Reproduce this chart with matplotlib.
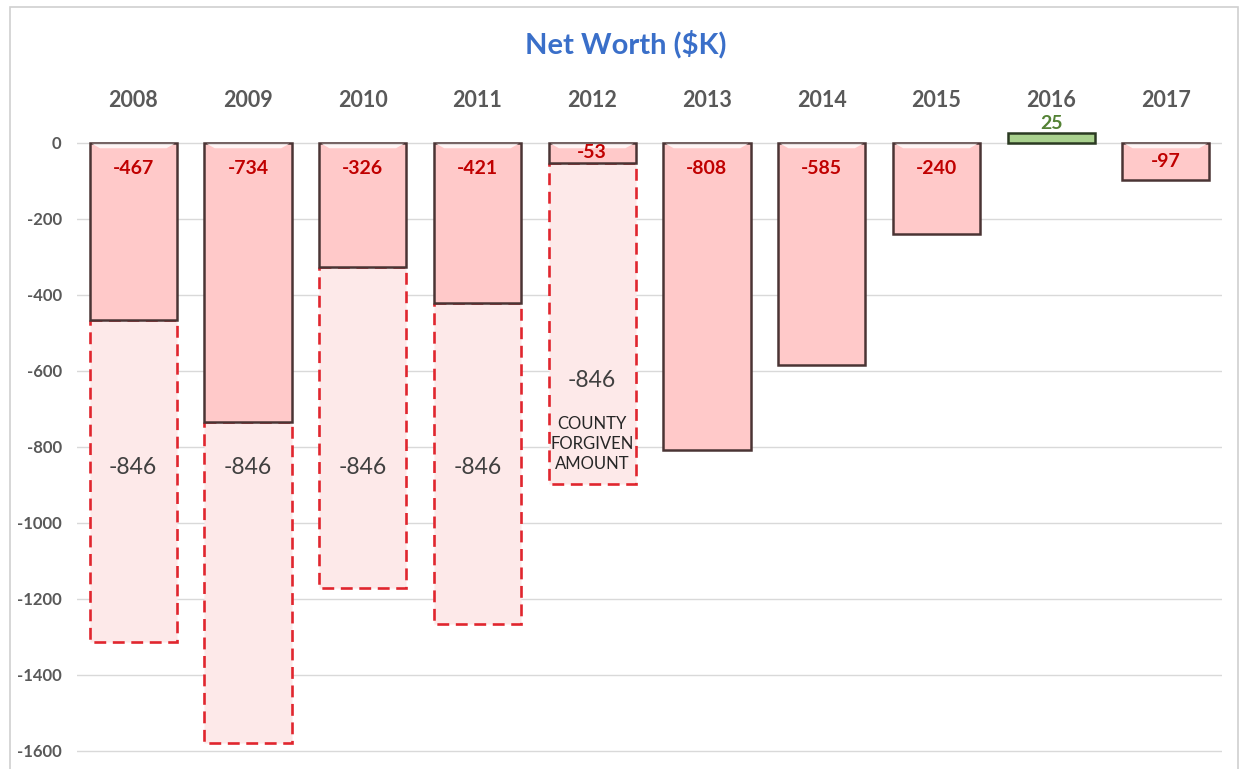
import matplotlib.pyplot as plt
import matplotlib.patches as mpatches
import numpy as np

# ── DATA ──
years = ["2008", "2009", "2010", "2011", "2012", "2013", "2014", "2015", "2016", "2017"]
net_worth = [-467, -734, -326, -421, -53, -808, -585, -240, 25, -97]
# county forgiven amount stacked under the first five years
forgiven = [-846, -846, -846, -846, -846, 0, 0, 0, 0, 0]
yticks = [0, -200, -400, -600, -800, -1000, -1200, -1400, -1600]

# ── STYLE ──
FONT = "Lato"
RED_FILL = "#FFC9C9"
RED_EDGE = "#4a3434"
GREEN_FILL = "#A9D18E"
GREEN_EDGE = "#2b3a22"
DASH_FILL = "#FDE9E9"
DASH_EDGE = "#E0262E"
GRID = "#D9D9D9"
TICK_GRAY = "#595959"
BAR_W = 0.76

plt.rcParams["font.family"] = [FONT, "DejaVu Sans"]

fig = plt.figure(figsize=(12.46, 7.69), dpi=100)
ax = fig.add_axes([0.0618, 0.0039, 0.919, 0.83])

x = np.arange(len(years))
vals = np.array(net_worth)
forg = np.array(forgiven)

# gridlines only across the tick range
for t in yticks:
    ax.axhline(t, color=GRID, lw=1.0, zorder=0)

# forgiven amount (dashed boxes) below the net worth bars
has_forg = forg != 0
ax.bar(x[has_forg], forg[has_forg], bottom=vals[has_forg], width=BAR_W,
       color=DASH_FILL, edgecolor=DASH_EDGE, linewidth=1.9,
       linestyle=(0, (4.5, 2.5)), zorder=2)

# net worth bars
colors = [GREEN_FILL if v > 0 else RED_FILL for v in vals]
edges = [GREEN_EDGE if v > 0 else RED_EDGE for v in vals]
bars = ax.bar(x, vals, width=BAR_W, color=colors, edgecolor=edges,
              linewidth=1.8, zorder=3)

# light bevel highlight at the top of each negative bar
for b, v in zip(bars, vals):
    if v < 0:
        x0 = b.get_x()
        w = b.get_width()
        h = min(14, abs(v) * 0.35)
        poly = mpatches.Polygon(
            [[x0 + 0.02, -2], [x0 + w - 0.02, -2], [x0 + w - 0.09, -h], [x0 + 0.09, -h]],
            closed=True, facecolor="white", edgecolor="none", alpha=0.8, zorder=4)
        ax.add_patch(poly)

# net worth value labels
for xi, v in zip(x, vals):
    if v > 0:
        ax.text(xi, v + 27, f"{v}", ha="center", va="center", fontsize=14,
                fontweight="bold", color="#548235", zorder=6)
    else:
        ax.text(xi, max(v / 2, -66), f"{v}", ha="center", va="center", fontsize=14,
                fontweight="bold", color="#C00000", zorder=6)

# forgiven amount labels
forg_label_y = [-855, -855, -855, -855, -626]
for xi, f, ly in zip(x[has_forg], forg[has_forg], forg_label_y):
    ax.text(xi, ly, f"{f}", ha="center", va="center", fontsize=16.5,
            color="#404040", zorder=6)
ax.text(x[4], -792, "COUNTY\nFORGIVEN\nAMOUNT", ha="center", va="center",
        fontsize=12, color="#262626", linespacing=1.3, zorder=6)

# axes
ax.set_xlim(-0.49, 9.49)
ax.set_ylim(-1640, 40)
ax.set_yticks(yticks)
ax.set_yticklabels([str(t) for t in yticks], fontsize=12, color=TICK_GRAY,
                   fontweight="bold")
ax.tick_params(axis="y", length=0, pad=11)
ax.xaxis.tick_top()
ax.set_xticks(x)
ax.set_xticklabels(years, fontsize=15.5, color=TICK_GRAY, fontweight="bold")
ax.tick_params(axis="x", length=0, pad=12)
for s in ax.spines.values():
    s.set_visible(False)
ax.set_facecolor("none")

fig.text(0.502, 0.942, "Net Worth ($K)", ha="center", va="center", fontsize=21,
         fontweight="bold", color="#3A6FC9")

# outer chart frame
frame = mpatches.Rectangle((10 / 1246, -0.05), 1228 / 1246, 1 - 7 / 769 + 0.05,
                           transform=fig.transFigure, fill=False,
                           edgecolor="#D0D0D0", linewidth=1.2, zorder=0)
fig.patches.append(frame)

fig.savefig("out.png", dpi=100, facecolor="white")
plt.close()
